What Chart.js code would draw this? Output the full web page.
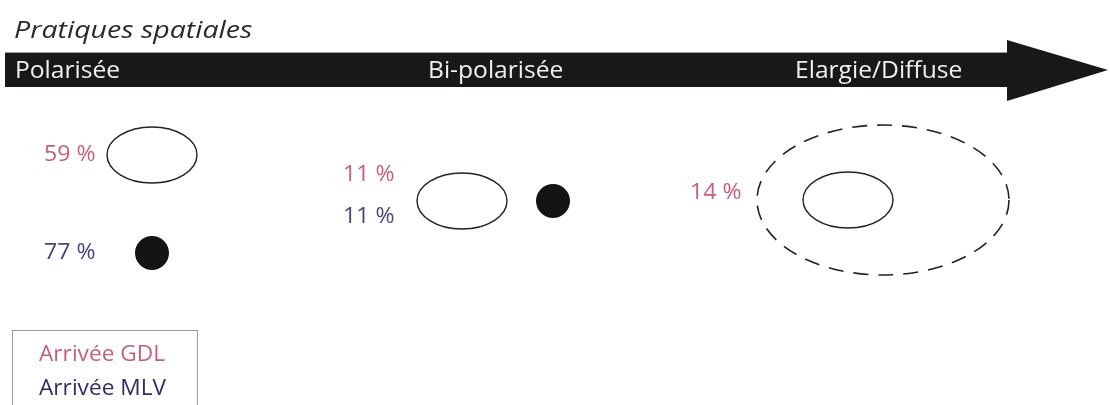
<!DOCTYPE html>
<html lang="fr">
<head>
<meta charset="UTF-8" />
<title>Pratiques spatiales</title>
<script src="https://cdn.jsdelivr.net/npm/chart.js"></script>
<style>
  html, body { margin: 0; padding: 0; background: #fff; }
  canvas { display: block; }
</style>
</head>
<body>
<canvas id="pratiques" width="1110" height="405"></canvas>
<script>
  const title = "Pratiques spatiales";
  const stages = ["Polarisée", "Bi-polarisée", "Elargie/Diffuse"];
  const gdlShare = [59, 11, 14]; // Arrivée GDL (%)
  const mlvShare = [77, 11, null]; // Arrivée MLV (%), rien en diffuse
  const legendLabels = ["Arrivée GDL", "Arrivée MLV"];

  const GDL_COLOR = "#c65e7a";
  const MLV_COLOR = "#45457f";
  const FONT = '"Open Sans", "Noto Sans", sans-serif';

  // where things sit in the diagram (axis units, 1 unit = 1 px)
  const layout = {
    stageLabelX: [15, 428, 795],
    gdlMark: [{ x: 152, y: 155 }, { x: 462, y: 201 }, { x: 848, y: 200 }],
    mlvMark: [{ x: 152, y: 253 }, { x: 553, y: 201 }, null],
    gdlText: [{ x: 44, y: 155 }, { x: 343, y: 175 }, { x: 690, y: 193 }],
    mlvText: [{ x: 44, y: 253 }, { x: 343, y: 217 }, null],
    diffuse: { x: 883, y: 200 },
  };

  function ellipseSprite(rx, ry, dash, lw) {
    const c = document.createElement("canvas");
    c.width = 2 * rx + 6;
    c.height = 2 * ry + 6;
    const g = c.getContext("2d");
    g.strokeStyle = "#222";
    g.lineWidth = lw;
    if (dash) g.setLineDash(dash);
    g.beginPath();
    g.ellipse(c.width / 2, c.height / 2, rx, ry, 0, 0, Math.PI * 2);
    g.stroke();
    return c;
  }

  // the original text is a bit wider than Open Sans
  function wideText(ctx, str, x, y, sx) {
    ctx.save();
    ctx.translate(x, y);
    ctx.scale(sx, 1);
    ctx.fillText(str, 0, 0);
    ctx.restore();
  }

  const gdlPoints = gdlShare
    .map((v, i) => (v == null ? null : { x: layout.gdlMark[i].x, y: layout.gdlMark[i].y, v: v }))
    .filter((p) => p);
  const mlvPoints = mlvShare
    .map((v, i) => (v == null ? null : { x: layout.mlvMark[i].x, y: layout.mlvMark[i].y, v: v }))
    .filter((p) => p);

  const diagram = {
    id: "diagram",
    beforeDatasetsDraw(chart) {
      const ctx = chart.ctx;
      const xs = chart.scales.x;
      const ys = chart.scales.y;
      const px = (v) => xs.getPixelForValue(v);
      const py = (v) => ys.getPixelForValue(v);
      ctx.save();

      // title
      ctx.fillStyle = "#2a2a2a";
      ctx.font = "italic 23px " + FONT;
      ctx.textBaseline = "alphabetic";
      wideText(ctx, title, px(14), py(38), 1.24);

      // arrow
      ctx.fillStyle = "#1a1718";
      ctx.fillRect(px(5), py(53), px(1007) - px(5), py(87) - py(53));
      ctx.strokeStyle = "#999";
      ctx.lineWidth = 1;
      ctx.beginPath();
      ctx.moveTo(px(5), py(53) - 0.5);
      ctx.lineTo(px(1007), py(53) - 0.5);
      ctx.stroke();
      ctx.beginPath();
      ctx.moveTo(px(1007), py(40));
      ctx.lineTo(px(1108), py(70));
      ctx.lineTo(px(1007), py(101));
      ctx.closePath();
      ctx.fill();

      // stages on the arrow
      ctx.fillStyle = "#f0f0f0";
      ctx.font = "23px " + FONT;
      stages.forEach((s, i) => wideText(ctx, s, px(layout.stageLabelX[i]), py(78), 1.07));
      ctx.restore();
    },
    afterDatasetsDraw(chart) {
      const ctx = chart.ctx;
      const xs = chart.scales.x;
      const ys = chart.scales.y;
      const px = (v) => xs.getPixelForValue(v);
      const py = (v) => ys.getPixelForValue(v);
      ctx.save();
      ctx.font = "21px " + FONT;
      ctx.textBaseline = "middle";
      gdlShare.forEach((v, i) => {
        if (v == null) return;
        ctx.fillStyle = GDL_COLOR;
        wideText(ctx, v + " %", px(layout.gdlText[i].x), py(layout.gdlText[i].y), 1.1);
      });
      mlvShare.forEach((v, i) => {
        if (v == null) return;
        ctx.fillStyle = MLV_COLOR;
        wideText(ctx, v + " %", px(layout.mlvText[i].x), py(layout.mlvText[i].y), 1.1);
      });

      // legend box
      ctx.strokeStyle = "#9a9a9a";
      ctx.lineWidth = 1;
      ctx.strokeRect(px(12) + 0.5, py(330) + 0.5, px(197) - px(12), 100);
      ctx.font = "21px " + FONT;
      ctx.fillStyle = GDL_COLOR;
      wideText(ctx, legendLabels[0], px(39), py(355), 1.08);
      ctx.fillStyle = "#2e2e66";
      wideText(ctx, legendLabels[1], px(39), py(389), 1.08);
      ctx.restore();
    },
  };

  new Chart(document.getElementById("pratiques"), {
    type: "scatter",
    data: {
      datasets: [
        {
          label: "Arrivée GDL",
          data: gdlPoints,
          pointStyle: ellipseSprite(45, 28, null, 1.4),
          pointRadius: 30,
        },
        {
          label: "Diffuse",
          data: [{ x: layout.diffuse.x, y: layout.diffuse.y }],
          pointStyle: ellipseSprite(126, 75, [15, 10], 1.6),
          pointRadius: 30,
        },
        {
          label: "Arrivée MLV",
          data: mlvPoints,
          pointStyle: "circle",
          pointRadius: 17,
          backgroundColor: "#141414",
          borderColor: "#141414",
          borderWidth: 0,
        },
      ],
    },
    options: {
      responsive: false,
      animation: false,
      events: [],
      layout: { padding: 0, autoPadding: false },
      scales: {
        x: { type: "linear", min: 0, max: 1110, display: false },
        y: { type: "linear", min: 0, max: 405, reverse: true, display: false },
      },
      plugins: {
        legend: { display: false },
        tooltip: { enabled: false },
      },
    },
    plugins: [diagram],
  });
</script>
</body>
</html>
